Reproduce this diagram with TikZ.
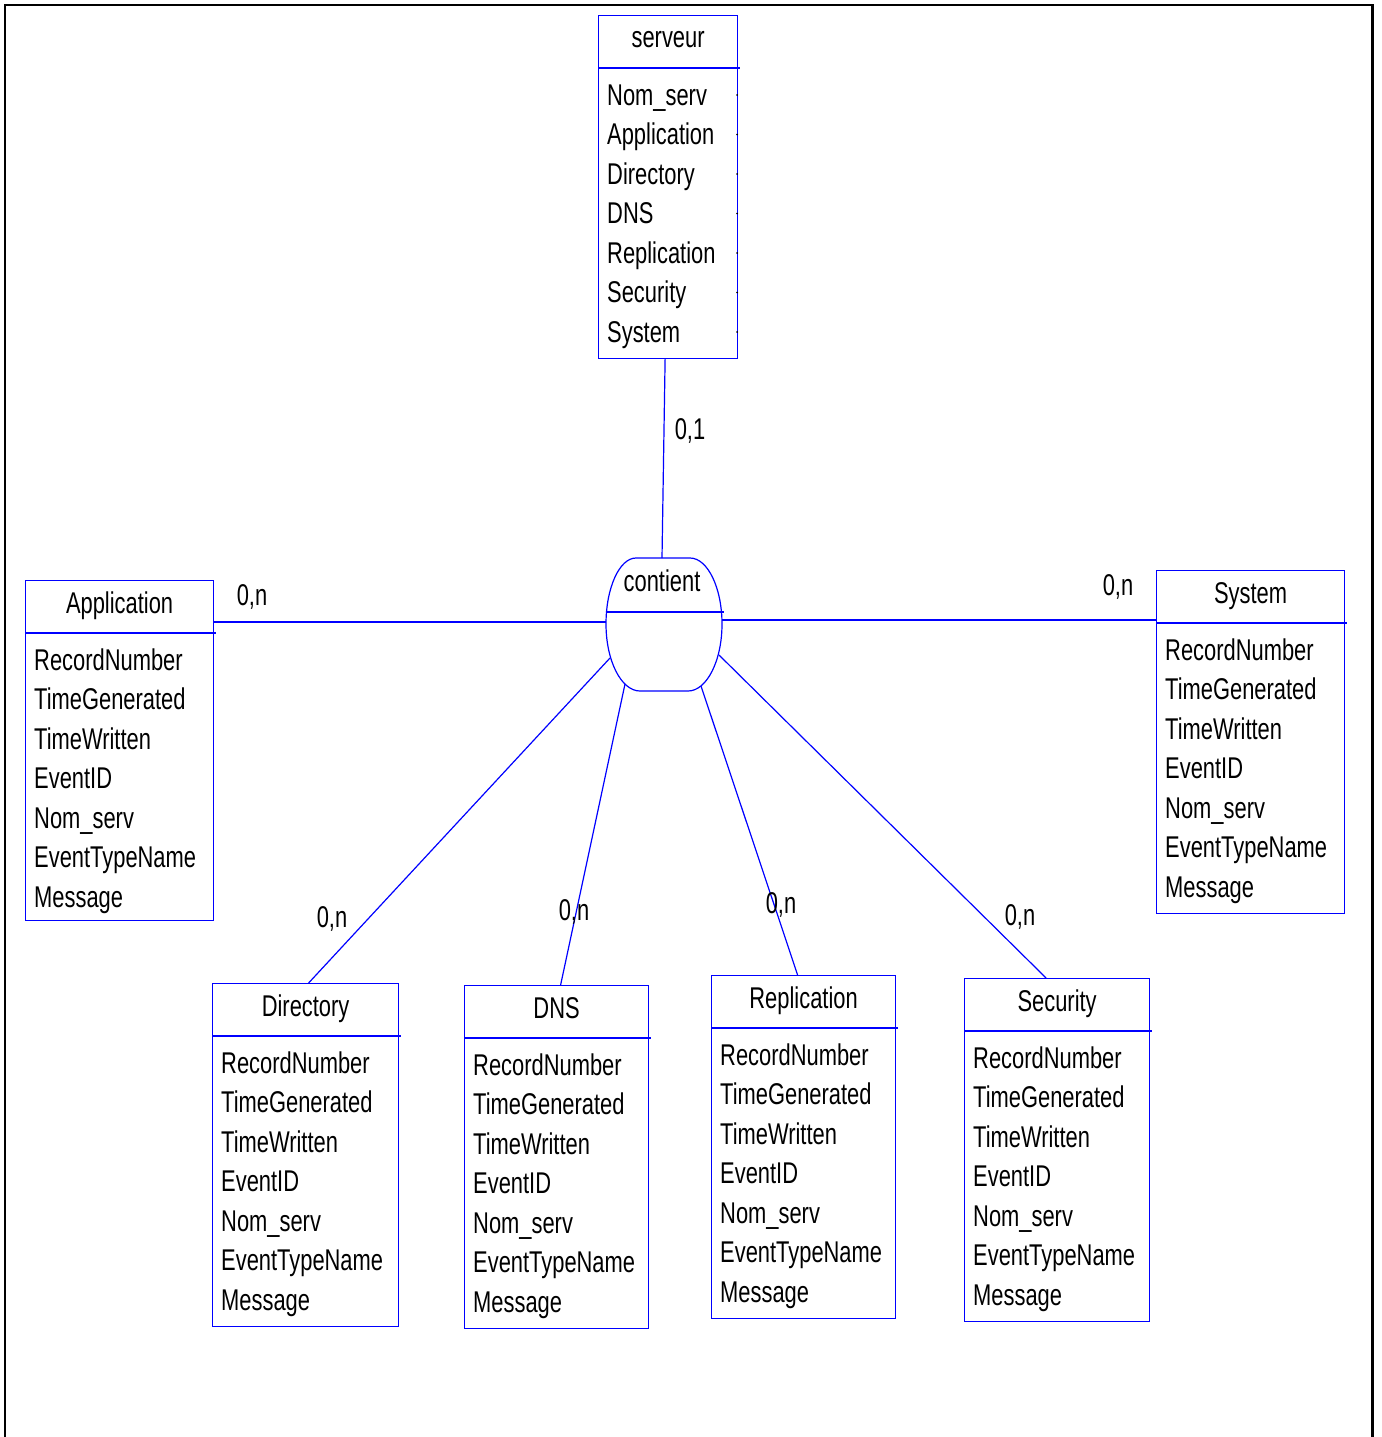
\documentclass[tikz,border=0pt]{standalone}
\usepackage{fontspec}
\setmainfont[FakeStretch=0.73]{Liberation Sans}
\usetikzlibrary{positioning}
\tikzset {
    x=1pt,
    y=-1pt,
    lien/.style={draw=blue, line width=1.2pt},
    entite/.style={lien, rectangle, inner sep=0pt},
    titre/.style={inner sep=0pt, anchor=base, font=\fontsize{30}{36}\selectfont},
    attr/.style={inner sep=0pt, anchor=base west, font=\fontsize{30}{36}\selectfont},
    card/.style={inner sep=0pt, font=\fontsize{30}{36}\selectfont}
}
\newcommand{\champs}{RecordNumber, TimeGenerated, TimeWritten, EventID, Nom\_serv, EventTypeName, Message}
\newcommand{\attrserveur}{Nom\_serv, Application, Directory, DNS, Replication, Security, System}
% entite: name, top left corner, width, height, title, list of attributes
\newcommand{\entite}[6]{%
    \node[entite, anchor=north west, minimum width=#3pt, minimum height=#4pt] (#1) at (#2) {};
    \draw[lien] ([yshift=-53pt]#1.north west) -- ++({#3+3},0);
    \node[titre] (#1-titre) at ([yshift=-33pt]#1.north) {#5};
    \foreach \champ [count=\i from 0] in #6
        \node[attr] (#1-\i) at ([xshift=9pt, yshift={-90pt-39.5pt*\i}]#1.north west) {\champ};
}

\begin{document}
\begin{tikzpicture}
    \useasboundingbox (0,0) rectangle (1381,1437);
    \draw[line width=2.5pt] (5,1437) -- (5,5) -- (1372.5,5) -- (1372.5,1437);

    % entites
    \entite{serveur}{598,15}{139}{343}{serveur}{\attrserveur}
    \entite{app}{25,580}{188}{340}{Application}{\champs}
    \entite{sys}{1156,570}{188}{343}{System}{\champs}
    \entite{dir}{212,983}{186}{343}{Directory}{\champs}
    \entite{dns}{464,985}{184}{343}{DNS}{\champs}
    \entite{repl}{711,975}{184}{343}{Replication}{\champs}
    \entite{secu}{964,978}{185}{343}{Security}{\champs}
    \foreach \i in {0,...,6}
        \fill ([xshift=-1pt, yshift={-80pt-39.5pt*\i}]serveur.north east) circle (1pt);

    % association
    \draw[lien] (636,558) .. controls (619.5,558) and (606,587.7) .. (606,624)
        .. controls (606,660.9) and (621.3,691) .. (640,691) -- (688,691)
        .. controls (706.7,691) and (722,660.9) .. (722,624)
        .. controls (722,587.7) and (707.6,558) .. (690,558) -- cycle;
    \draw[lien] (606,612) -- (724,612);
    \node[titre] (contient) at (662,591) {contient};

    \coordinate (c-serv) at (662,558);
    \coordinate (c-app) at (606,622);
    \coordinate (c-sys) at (722,620);
    \coordinate (c-dir) at (610,658);
    \coordinate (c-dns) at (625,684);
    \coordinate (c-repl) at (701,686);
    \coordinate (c-secu) at (719,655);

    \draw[lien] ([xshift=-3pt]serveur.south) -- (c-serv);
    \draw[lien] ([yshift=-42pt]app.north east) -- (c-app);
    \draw[lien] ([yshift=-50pt]sys.north west) -- (c-sys);
    \draw[lien] ([xshift=3pt]dir.north) -- (c-dir);
    \draw[lien] ([xshift=4pt]dns.north) -- (c-dns);
    \draw[lien] ([xshift=-6pt]repl.north) -- (c-repl);
    \draw[lien] ([xshift=-11pt]secu.north) -- (c-secu);

    % cardinalites
    \node[card] (card-serv) at (690,431) {0,1};
    \node[card] (card-app) at (252,597) {0,n};
    \node[card] (card-sys) at (1118,587) {0,n};
    \node[card] (card-dir) at (332,919) {0,n};
    \node[card] (card-dns) at (574,912) {0,n};
    \node[card] (card-repl) at (781,905) {0,n};
    \node[card] (card-secu) at (1020,917) {0,n};
\end{tikzpicture}
\end{document}
